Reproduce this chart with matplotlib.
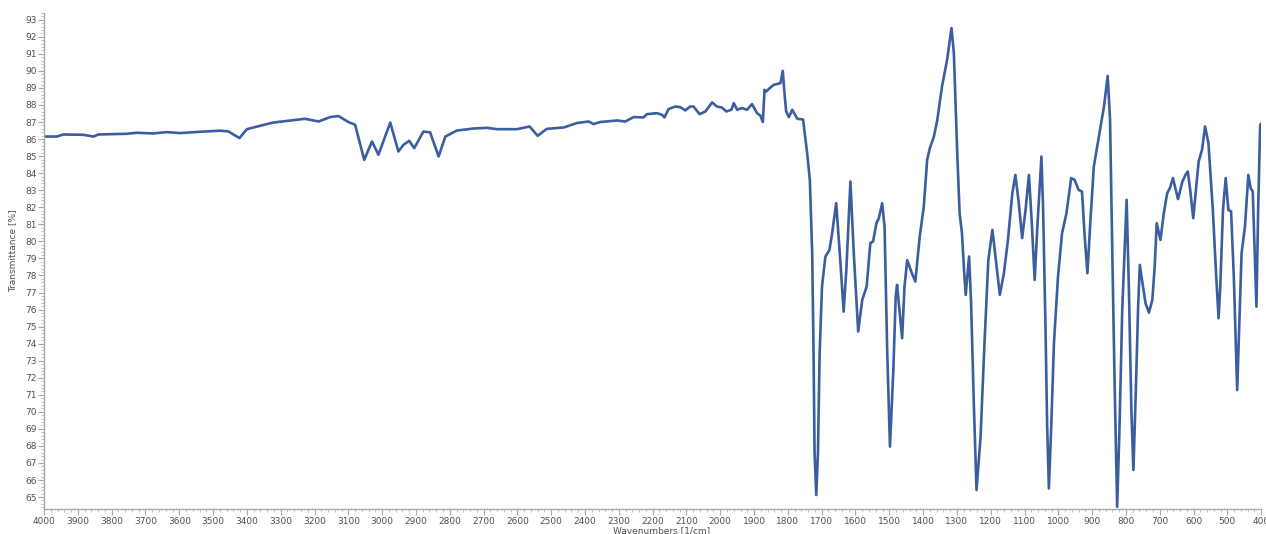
import matplotlib
matplotlib.use('Agg')
import matplotlib.pyplot as plt
from matplotlib.ticker import MultipleLocator

# wavenumbers [1/cm] and transmittance [%]
wavenumbers = [
    4000, 3962, 3943, 3884, 3854, 3839, 3755, 3726, 3677, 3637, 3598, 3538,
    3479, 3455, 3422, 3400, 3361, 3322, 3272, 3228, 3188, 3154, 3129, 3100,
    3080, 3053, 3030, 3011, 2976, 2952, 2937, 2920, 2905, 2878, 2858, 2833,
    2813, 2779, 2730, 2690, 2660, 2601, 2564, 2540, 2513, 2463, 2424, 2389,
    2375, 2355, 2305, 2281, 2256, 2227, 2217, 2187, 2172, 2165, 2153, 2133,
    2118, 2103, 2089, 2079, 2061, 2044, 2024, 2010, 1995, 1982, 1967, 1960,
    1950, 1936, 1921, 1906, 1891, 1881, 1874, 1869, 1864, 1857, 1842, 1822,
    1815, 1810, 1805, 1797, 1787, 1772, 1755, 1743, 1735, 1728, 1724, 1721,
    1716, 1711, 1706, 1699, 1689, 1677, 1669, 1657, 1645, 1635, 1627, 1615,
    1605, 1592, 1580, 1567, 1556, 1548, 1538, 1531, 1521, 1514, 1506, 1498,
    1488, 1481, 1477, 1469, 1462, 1455, 1447, 1435, 1423, 1410, 1398, 1388,
    1380, 1368, 1358, 1344, 1329, 1316, 1309, 1299, 1292, 1285, 1279, 1274,
    1264, 1258, 1250, 1242, 1230, 1218, 1207, 1195, 1186, 1173, 1161, 1149,
    1136, 1127, 1117, 1107, 1097, 1087, 1079, 1070, 1062, 1050, 1045, 1038,
    1033, 1028, 1021, 1013, 1001, 989, 976, 962, 952, 940, 930, 922,
    914, 905, 895, 880, 865, 854, 847, 840, 833, 826, 819, 811,
    798, 791, 784, 778, 771, 764, 759, 751, 742, 732, 722, 715,
    709, 698, 688, 678, 670, 661, 646, 633, 624, 617, 610, 601,
    592, 585, 575, 566, 556, 543, 533, 526, 521, 513, 505, 497,
    489, 481, 471, 465, 458, 448, 438, 431, 425, 420, 414, 409,
    403, 400,
]
transmittance = [
    86.15, 86.15, 86.27, 86.25, 86.15, 86.27, 86.31, 86.37, 86.33, 86.41, 86.35, 86.43,
    86.49, 86.45, 86.06, 86.58, 86.78, 86.97, 87.09, 87.19, 87.03, 87.29, 87.35, 87.00,
    86.84, 84.78, 85.86, 85.08, 86.97, 85.27, 85.66, 85.90, 85.47, 86.44, 86.39, 84.98,
    86.15, 86.50, 86.62, 86.66, 86.58, 86.58, 86.74, 86.19, 86.60, 86.68, 86.94, 87.03,
    86.88, 87.00, 87.09, 87.03, 87.29, 87.27, 87.46, 87.52, 87.42, 87.27, 87.76, 87.91,
    87.87, 87.68, 87.91, 87.91, 87.46, 87.62, 88.15, 87.91, 87.85, 87.62, 87.72, 88.11,
    87.72, 87.82, 87.72, 88.05, 87.52, 87.37, 87.00, 88.89, 88.79, 88.93, 89.18, 89.28,
    90.00, 88.70, 87.62, 87.29, 87.72, 87.19, 87.15, 85.18, 83.61, 79.30, 73.45, 67.60,
    65.12, 67.60, 73.45, 77.35, 79.10, 79.50, 80.48, 82.24, 78.90, 75.88, 78.33, 83.51,
    79.30, 74.71, 76.57, 77.35, 79.90, 79.99, 81.07, 81.36, 82.24, 80.87, 73.44, 67.96,
    72.46, 76.76, 77.45, 75.79, 74.32, 77.35, 78.90, 78.23, 77.64, 80.28, 82.04, 84.78,
    85.47, 86.15, 87.13, 89.09, 90.65, 92.51, 91.04, 85.18, 81.65, 80.48, 78.33, 76.86,
    79.11, 76.37, 70.50, 65.41, 68.55, 74.22, 78.92, 80.68, 79.11, 76.86, 78.13, 80.09,
    82.83, 83.90, 82.24, 80.19, 81.85, 83.90, 81.26, 77.74, 80.87, 84.98, 81.85, 75.00,
    69.13, 65.51, 69.13, 74.03, 77.93, 80.48, 81.65, 83.71, 83.61, 83.02, 82.92, 80.28,
    78.13, 81.26, 84.39, 86.15, 87.91, 89.71, 87.13, 78.91, 71.09, 64.43, 69.13, 75.98,
    82.44, 76.96, 70.11, 66.59, 71.09, 76.17, 78.62, 77.54, 76.37, 75.82, 76.57, 78.52,
    81.07, 80.09, 81.65, 82.83, 83.12, 83.71, 82.48, 83.51, 83.90, 84.10, 83.02, 81.36,
    83.22, 84.68, 85.37, 86.74, 85.76, 81.85, 77.93, 75.49, 77.35, 81.85, 83.71, 81.85,
    81.75, 77.93, 71.28, 75.00, 79.30, 80.87, 83.90, 83.12, 82.92, 79.90, 76.17, 81.85,
    86.84, 86.90,
]

fig = plt.figure(figsize=(12.66, 5.34), dpi=100)
ax = fig.add_axes([0.0348, 0.0468, 0.9614, 0.929])

ax.plot(wavenumbers, transmittance, color='#3b5e9e', linewidth=1.9,
        solid_joinstyle='round')

ax.set_xlim(4000, 400)
ax.set_ylim(64.3, 93.4)
ax.xaxis.set_major_locator(MultipleLocator(100))
ax.xaxis.set_minor_locator(MultipleLocator(20))
ax.yaxis.set_major_locator(MultipleLocator(1))
ax.yaxis.set_minor_locator(MultipleLocator(0.2))

for s in ['top', 'right']:
    ax.spines[s].set_visible(False)
for s in ['left', 'bottom']:
    ax.spines[s].set_color('#a8a8a8')
    ax.spines[s].set_linewidth(1.0)

ax.tick_params(which='major', length=4, width=0.8, color='#a8a8a8',
               labelsize=6.5, labelcolor='#505050', pad=1.5)
ax.tick_params(which='minor', length=2, width=0.6, color='#b8b8b8')

ax.set_xlabel('Wavenumbers [1/cm]', fontsize=6.5, color='#505050')
ax.xaxis.set_label_coords(0.507, -0.034)
ax.set_ylabel('Transmittance [%]', fontsize=6.5, color='#505050')
ax.yaxis.set_label_coords(-0.0222, 0.52)

fig.savefig('out.png', dpi=100)
